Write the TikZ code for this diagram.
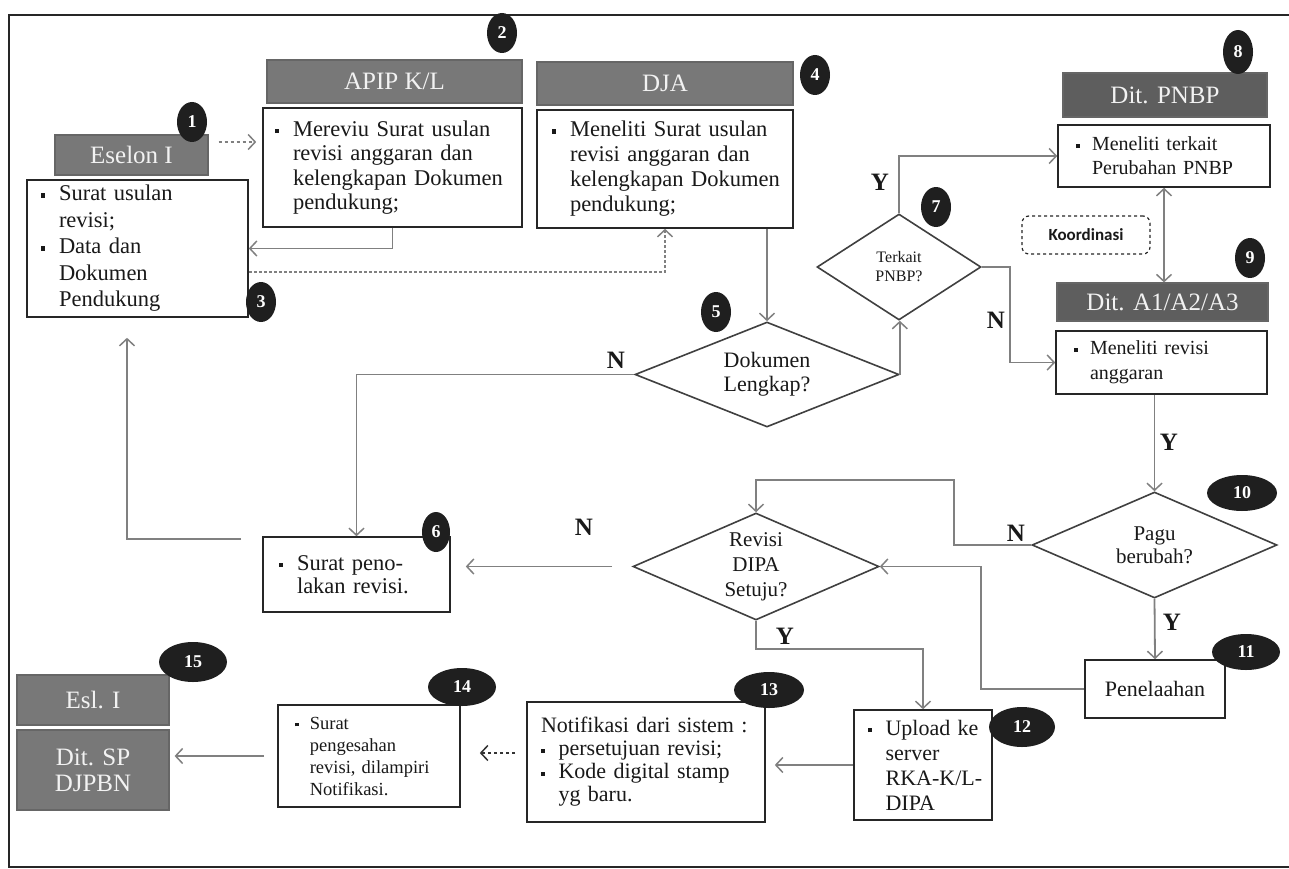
\documentclass[tikz,border=0pt]{standalone}
\usepackage{fontspec}
\setmainfont{Liberation Serif}
\newfontfamily\kfont{Carlito}
\usetikzlibrary{shapes.geometric,arrows.meta,calc}
\definecolor{hdrA}{gray}{0.47}
\definecolor{hdrB}{gray}{0.37}
\definecolor{conn}{gray}{0.50}
\definecolor{ink}{gray}{0.10}
\newcommand\bul{\makebox[0.8em][l]{\rule[0.3ex]{0.42ex}{0.42ex}}}
\newcommand\myind{\hspace*{0.8em}}
\newcommand\bl[1]{\bul\mbox{#1}}
\newcommand\il[1]{\myind\mbox{#1}}
\newcommand\fs[2]{\fontsize{#1}{#2}\selectfont}
\begin{document}
\begin{tikzpicture}[x=1pt,y=-1pt,
  box/.style={draw=black!85, line width=1.6pt, fill=white, text=ink, align=left, inner xsep=#1, inner ysep=0pt},
  box/.default=12pt,
  hdr/.style={draw=black!60, line width=1.2pt, fill=hdrA, text=white!95!black, align=center, inner sep=0pt, font=\fs{25}{26}},
  dec/.style={diamond, draw=black!75, line width=1.6pt, fill=white, text=ink, align=center, inner sep=0pt},
  badge/.style={ellipse, fill=black!88, text=white, inner sep=0pt, font=\bfseries\fs{18}{18}},
  arr/.style={draw=conn, line width=1.8pt, -{Straight Barb[length=7pt,width=15pt,line width=1.5pt]}},
  lbl/.style={font=\bfseries\fs{25}{25}, text=ink, inner sep=0pt}
]
\useasboundingbox (0,0) rectangle (1289,869);
\fill[white] (0,0) rectangle (1289,869);
\draw[line width=2pt, black!85] (1289,15) -- (9,15) -- (9,867) -- (1289,867);

% ---- boxes row 1
\node[hdr, minimum width=153pt, minimum height=40pt] (h1) at (131.5,155) {Eselon I};
\node[box=14pt, text width=193pt, minimum height=137pt, font=\fs{22.5}{26.5}] (b1) at (137.5,248.5)
  {\bl{Surat usulan}\\ \il{revisi;}\\ \bl{Data dan}\\ \il{Dokumen}\\ \il{Pendukung}};

\node[hdr, minimum width=255pt, minimum height=43pt] (h2) at (394.5,81.5) {APIP K/L};
\node[box, text width=235pt, minimum height=119pt, font=\fs{22.5}{24.5}] (b2) at (392.5,167.5)
  {\bl{Mereviu Surat usulan}\\ \il{revisi anggaran dan}\\ \il{kelengkapan Dokumen}\\ \il{pendukung;}};

\node[hdr, minimum width=256pt, minimum height=43pt] (h4) at (665,83.5) {DJA};
\node[box=15pt, text width=226pt, minimum height=118pt, font=\fs{22.5}{25}] (b4) at (665,169)
  {\bl{Meneliti Surat usulan}\\ \il{revisi anggaran dan}\\ \il{kelengkapan Dokumen}\\ \il{pendukung;}};

\node[hdr, fill=hdrB, minimum width=204pt, minimum height=44pt] (h8) at (1165,95) {Dit. PNBP};
\node[box=18pt, text width=176pt, minimum height=62pt, font=\fs{20}{24}] (b8) at (1164,156)
  {\bl{Meneliti terkait}\\ \il{Perubahan PNBP}};

\node[draw=black!85, line width=1.2pt, dashed, rounded corners=7pt, minimum width=128pt, minimum height=38pt,
      font=\kfont\bfseries\fs{17}{18}, text=ink] (k) at (1086,235) {Koordinasi};

\node[hdr, fill=hdrB, minimum width=211pt, minimum height=38pt] (h9) at (1162.5,302) {Dit. A1/A2/A3};
\node[box=18pt, text width=175pt, minimum height=63pt, font=\fs{20}{25}] (b9) at (1161.5,362.5)
  {\bl{Meneliti revisi}\\ \il{anggaran}};

% ---- decisions
\node[dec, aspect=1.55, minimum width=164pt, minimum height=106pt, font=\fs{16}{19}] (d7) at (899,267) {Terkait\\PNBP?};
\node[dec, aspect=2.5, minimum width=264pt, minimum height=105pt, font=\fs{22}{24}] (d5) at (767,374.5) {Dokumen\\Lengkap?};
\node[dec, aspect=2.3, minimum width=245pt, minimum height=106pt, font=\fs{21}{23}] (d10) at (1154.5,545) {Pagu\\berubah?};
\node[dec, aspect=2.3, minimum width=246pt, minimum height=107pt, font=\fs{21}{25}] (dr) at (756,566.5) {Revisi\\DIPA\\Setuju?};

% ---- lower boxes
\node[box=16pt, text width=155pt, minimum height=75pt, font=\fs{22.5}{23.5}] (b6) at (356.5,574.5)
  {\bl{Surat peno-}\\ \il{lakan revisi.}};
\node[box=8pt, align=center, minimum width=140pt, minimum height=58pt, font=\fs{22}{24}] (b11) at (1155,689) {Penelaahan};
\node[box=14pt, text width=110pt, minimum height=110pt, font=\fs{22}{25}] (b12) at (923,765)
  {\bl{Upload ke}\\ \il{server}\\ \il{RKA-K/L-}\\ \il{DIPA}};
\node[box=14pt, text width=210pt, minimum height=120pt, font=\fs{22}{23}] (b13) at (646,762)
  {\mbox{Notifikasi dari sistem :}\\ \bl{persetujuan revisi;}\\ \bl{Kode digital stamp}\\ \il{yg baru.}};
\node[box=17pt, text width=148pt, minimum height=102pt, font=\fs{18.5}{22}] (b14) at (369,756)
  {\bl{Surat}\\ \il{pengesahan}\\ \il{revisi, dilampiri}\\ \il{Notifikasi.}};
\node[hdr, minimum width=152pt, minimum height=50pt] (h15) at (93,700) {Esl. I};
\node[hdr, minimum width=152pt, minimum height=80pt] (b15) at (93,770) {Dit. SP\\DJPBN};

% ---- badges
\node[badge, minimum width=30pt, minimum height=40pt] (n1) at (192,122) {1};
\node[badge, minimum width=30pt, minimum height=40pt] (n2) at (502,33) {2};
\node[badge, minimum width=30pt, minimum height=40pt] (n3) at (261,302) {3};
\node[badge, minimum width=30pt, minimum height=40pt] (n4) at (815,75) {4};
\node[badge, minimum width=30pt, minimum height=40pt] (n5) at (716,312) {5};
\node[badge, minimum width=28pt, minimum height=40pt] (n6) at (436,532) {6};
\node[badge, minimum width=30pt, minimum height=40pt] (n7) at (936,207) {7};
\node[badge, minimum width=30pt, minimum height=44pt] (n8) at (1238,52) {8};
\node[badge, minimum width=30pt, minimum height=40pt] (n9) at (1250,258) {9};
\node[badge, minimum width=70pt, minimum height=36pt] (n10) at (1242,493) {10};
\node[badge, minimum width=68pt, minimum height=36pt] (n11) at (1246,652) {11};
\node[badge, minimum width=66pt, minimum height=40pt] (n12) at (1022,727) {12};
\node[badge, minimum width=70pt, minimum height=36pt] (n13) at (769,690) {13};
\node[badge, minimum width=68pt, minimum height=38pt] (n14) at (462,687) {14};
\node[badge, minimum width=68pt, minimum height=40pt] (n15) at (193,662) {15};

% ---- connectors
\draw[arr, dashed, shorten <=10pt, shorten >=6pt] ([yshift=13pt]h1.east) -- ([yshift=13pt]h1.east -| b2.west);
\draw[arr] (b2.south) |- (b1.east);
\draw[arr, densely dashed, line width=1.4pt] ([yshift=-23.5pt]b1.east) -| (b4.south);
\draw[arr] (b4.south -| d5.north) -- (d5.north);
\draw[arr] (d5.west) -| (b6.north);
\draw[arr] (d5.east) -- (d5.east |- d7.south);
\draw[arr] (d7.north) |- (b8.west);
\draw[arr] (d7.east) -- ++(28,0) |- (b9.west);
\draw[arr, {Straight Barb[length=7pt,width=15pt,line width=1.5pt]}-{Straight Barb[length=7pt,width=15pt,line width=1.5pt]}] (b8.south) -- (b8.south |- h9.north);
\draw[arr] (d10.north |- b9.south) -- (d10.north);
\draw[arr] (d10.south) -- (b11.north);
\coordinate (c1) at (954,480);
\draw[arr] (d10.west) -| (c1) -| (dr.north);
\draw[arr] (b11.west) -- ++(-103,0) |- (dr.east);
\draw[arr, shorten <=20pt, shorten >=15pt] (dr.west) -- (dr.west -| b6.east);
\draw[arr] (dr.south) -- ++(0,28) -| (b12.north);
\draw[arr, shorten >=9pt] (b12.west) -- (b12.west -| b13.east);
\draw[arr, draw=black!80, dashed, shorten <=11pt, shorten >=19pt] ([yshift=9pt]b13.west) -- ([yshift=9pt]b13.west -| b14.east);
\draw[arr, shorten <=13pt, shorten >=5pt] (b14.west) -- (b14.west -| b15.east);
\draw[arr, shorten <=21pt, shorten >=20pt] ([yshift=-3pt]b6.north west) -| ([xshift=-10.5pt]b1.south);

% ---- labels
\node[lbl] (lN5) at (616,360) {N};
\node[lbl] (lY7) at (880,182) {Y};
\node[lbl] (lN7) at (996,320) {N};
\node[lbl] (lY9) at (1169,442) {Y};
\node[lbl] (lN10) at (1016,533) {N};
\node[lbl] (lY10) at (1172,622) {Y};
\node[lbl] (lNr) at (584,527) {N};
\node[lbl] (lYr) at (785,636) {Y};
\end{tikzpicture}
\end{document}
